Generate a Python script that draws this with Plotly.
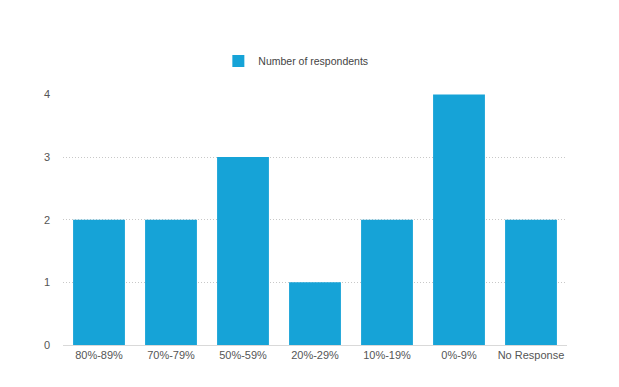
import plotly.graph_objects as go

categories = ["80%-89%", "70%-79%", "50%-59%", "20%-29%", "10%-19%", "0%-9%", "No Response"]
respondents = [2, 2, 3, 1, 2, 4, 2]
series_name = "Number of respondents"

fig = go.Figure()
fig.add_trace(go.Bar(
    x=categories, y=respondents, name=series_name,
    marker=dict(color="#16a3d7", line=dict(width=0)),
    showlegend=True,
))

fig.update_layout(
    width=619, height=387,
    margin=dict(l=55, r=60, t=86, b=50),
    paper_bgcolor="white", plot_bgcolor="white",
    bargap=0.28,
    font=dict(family="Helvetica, Arial, Liberation Sans, sans-serif", size=11, color="#555"),
    showlegend=True,
    legend=dict(orientation="h", x=0.462, xanchor="center", y=1.131, yanchor="middle",
                font=dict(size=10.5, color="#444"), itemwidth=30),
    xaxis=dict(showgrid=False, showline=True, linecolor="#d9d9d9", linewidth=1,
               ticks="", tickfont=dict(size=11, color="#555")),
    yaxis=dict(range=[0, 4.006], dtick=1, showgrid=True, gridcolor="#c8c8c8", griddash="1px,2px",
               gridwidth=1, zeroline=False, showline=False, ticks="",
               ticklabelstandoff=12, tickfont=dict(size=11, color="#555")),
)

fig.write_html("out.html")
